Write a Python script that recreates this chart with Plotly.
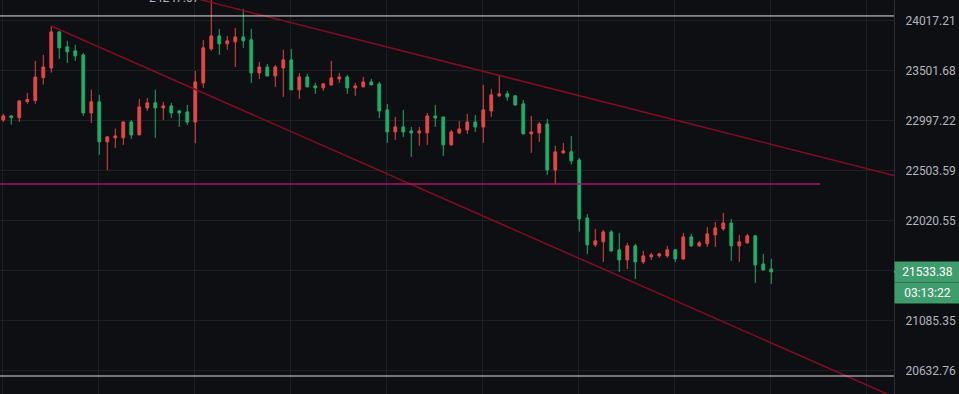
import math
import plotly.graph_objects as go

# ---------------- data ----------------
bar_index = list(range(97))

opens = [23000.6, 23041.0, 23024.2, 23185.6, 23195.7, 23427.7, 23525.7, 23896.9, 23742.2, 23701.0,
         23659.8, 23071.2, 23182.2, 22783.3, 22822.8, 22822.8, 22980.8, 22852.4, 23121.7, 23172.1,
         23121.7, 23141.9, 23091.4, 23081.3, 22980.8, 23373.9, 23721.6, 23855.7, 23773.2, 23793.8,
         23845.3, 23814.4, 23474.8, 23536.0, 23444.5, 23525.7, 23608.2, 23303.3, 23434.4, 23343.6,
         23323.5, 23353.7, 23414.3, 23434.4, 23323.5, 23333.5, 23384.0, 23363.8, 23101.5, 22882.0,
         22931.4, 22891.9, 22872.1, 22872.1, 23041.0, 23030.9, 22753.7, 22872.1, 22901.8, 22980.8,
         22931.4, 23091.4, 23242.7, 23262.9, 23242.7, 23162.0, 22862.3, 22872.1, 22961.0, 22506.8,
         22674.7, 22684.6, 22605.6, 22043.1, 21787.4, 21815.8, 21910.3, 21740.1, 21645.6, 21777.9,
         21626.7, 21673.9, 21683.4, 21683.4, 21740.1, 21655.1, 21863.0, 21777.9, 21796.8, 21881.9,
         21938.6, 21995.3, 21777.9, 21806.3, 21872.5, 21607.8, 21560.5]
highs = [23061.1, 23051.1, 23195.0, 23273.0, 23597.9, 23659.8, 23958.8, 23907.2, 23804.1, 23762.9,
         23680.4, 23303.3, 23252.8, 22842.5, 22914.9, 22990.6, 23000.6, 23212.5, 23222.6, 23303.3,
         23182.2, 23172.1, 23101.5, 23151.9, 23495.0, 23814.4, 24247.07, 23927.8, 23855.7, 23938.1,
         24136.6, 23927.8, 23587.6, 23567.0, 23556.6, 23711.3, 23721.6, 23474.8, 23464.7, 23373.9,
         23373.9, 23597.9, 23474.8, 23454.6, 23373.9, 23434.4, 23414.3, 23386.0, 23162.0, 23030.9,
         23101.5, 22931.4, 22931.4, 23071.2, 23151.9, 23033.0, 22901.8, 22990.6, 23061.1, 23051.1,
         23353.7, 23313.4, 23454.6, 23293.2, 23252.8, 23202.4, 23041.0, 22980.8, 23010.7, 22743.8,
         22773.4, 22842.5, 22625.3, 22081.8, 21938.6, 21929.2, 21929.2, 21900.8, 21806.3, 21796.8,
         21730.7, 21711.7, 21711.7, 21777.9, 21749.6, 21900.8, 21891.4, 21825.2, 21957.5, 22004.8,
         22091.4, 22033.4, 21881.9, 21891.4, 21881.9, 21702.3, 21655.1]
lows = [22980.8, 22954.4, 22980.8, 23162.0, 23162.0, 23357.1, 23478.2, 23618.5, 23577.3, 23597.9,
        23041.0, 22970.9, 22654.9, 22506.8, 22724.0, 22753.7, 22812.9, 22850.0, 23091.4, 22822.8,
        23000.6, 23020.8, 22931.4, 22951.1, 22770.1, 23323.5, 23701.0, 23659.8, 23711.3, 23536.0,
        23731.9, 23373.9, 23414.3, 23440.0, 23333.5, 23232.7, 23300.0, 23212.5, 23330.0, 23262.9,
        23293.2, 23343.6, 23373.9, 23262.9, 23242.7, 23330.0, 23350.0, 23020.8, 22773.4, 22803.0,
        22832.6, 22635.2, 22743.8, 22753.7, 22931.4, 22645.1, 22743.8, 22862.3, 22862.3, 22882.0,
        22773.4, 23030.9, 23232.7, 23192.3, 23141.9, 22860.0, 22674.7, 22783.3, 22458.5, 22371.6,
        22664.8, 22560.0, 21913.4, 21702.3, 21768.5, 21626.7, 21721.2, 21532.5, 21560.5, 21467.7,
        21607.8, 21645.6, 21664.5, 21664.5, 21626.7, 21645.6, 21768.5, 21768.5, 21768.5, 21768.5,
        21919.7, 21636.2, 21626.7, 21796.8, 21430.7, 21550.0, 21421.5]
closes = [23041.0, 23024.2, 23192.3, 23205.8, 23434.4, 23536.0, 23896.9, 23731.9, 23690.7, 23649.4,
          23071.2, 23182.2, 22783.3, 22832.6, 22842.5, 22980.8, 22852.4, 23131.8, 23172.1, 23121.7,
          23141.9, 23071.2, 23071.2, 22980.8, 23384.0, 23731.9, 23855.7, 23773.2, 23804.1, 23845.3,
          23804.1, 23474.8, 23536.0, 23444.5, 23536.0, 23608.2, 23303.3, 23434.4, 23333.5, 23323.5,
          23363.8, 23424.4, 23434.4, 23323.5, 23343.6, 23384.0, 23353.7, 23091.4, 22882.0, 22931.4,
          22882.0, 22872.1, 22891.9, 23041.0, 23020.8, 22753.7, 22882.0, 22911.6, 22980.8, 22931.4,
          23101.5, 23252.8, 23262.9, 23232.7, 23151.9, 22862.3, 22882.0, 22961.0, 22506.8, 22684.6,
          22694.4, 22595.7, 22033.5, 21787.4, 21825.2, 21910.3, 21730.7, 21645.6, 21777.9, 21626.7,
          21683.4, 21692.8, 21702.3, 21740.1, 21655.1, 21863.0, 21777.9, 21806.3, 21891.4, 21948.1,
          21995.3, 21777.9, 21815.8, 21872.5, 21598.3, 21551.1, 21533.38]

# price-axis ticks
tick_values = [24017.21, 23501.68, 22997.22, 22503.59, 22020.55, 21547.90, 21085.35, 20632.76]
tick_labels = ["24017.21", "23501.68", "22997.22", "22503.59", "22020.55", "", "21085.35", "20632.76"]

# drawings (bar index, price)
upper_trend_x = [20, 112]
upper_trend_y = [24333.4, 22439.8]
lower_trend_x = [6, 112]
lower_trend_y = [23958.8, 20374.9]
level_magenta_x = [-1, 102.1]
level_magenta_y = [22371.6, 22371.6]
level_top = 24062.9
level_bottom = 20582.0

high_label = "24247.07"
high_label_index = 24.8
last_price = 21533.38
last_price_text = "21533.38"
countdown_text = "03:13:22"

# ---------------- styling ----------------
BG = "#0e0f13"
GRID = "#1d1f24"
UP = "#e2474b"
DOWN = "#22ab6a"
TEXT = "#b2b5be"
LABEL_BG = "#3f9c6d"
TREND = "#820d22"
MAGENTA = "#a8146a"
WHITE_LVL = "#e0e0e0"

fig = go.Figure()

fig.add_trace(go.Candlestick(
    x=bar_index, open=opens, high=highs, low=lows, close=closes,
    increasing=dict(line=dict(color=UP, width=1), fillcolor=UP),
    decreasing=dict(line=dict(color=DOWN, width=1), fillcolor=DOWN),
    whiskerwidth=0, showlegend=False, hoverinfo="skip",
))

fig.add_trace(go.Scatter(x=upper_trend_x, y=upper_trend_y, mode="lines",
                         line=dict(color=TREND, width=1.5), showlegend=False, hoverinfo="skip"))
fig.add_trace(go.Scatter(x=lower_trend_x, y=lower_trend_y, mode="lines",
                         line=dict(color=TREND, width=1.5), showlegend=False, hoverinfo="skip"))
fig.add_trace(go.Scatter(x=level_magenta_x, y=level_magenta_y, mode="lines",
                         line=dict(color=MAGENTA, width=1.5), showlegend=False, hoverinfo="skip"))
fig.add_trace(go.Scatter(x=[-1, 112], y=[level_top, level_top], mode="lines",
                         line=dict(color=WHITE_LVL, width=1), showlegend=False, hoverinfo="skip"))
fig.add_trace(go.Scatter(x=[-1, 112], y=[level_bottom, level_bottom], mode="lines",
                         line=dict(color=WHITE_LVL, width=1), showlegend=False, hoverinfo="skip"))

# log price axis range to match the reference spacing (50 px per tick step)
r = (tick_values[0] / tick_values[-1]) ** (1 / 7)
top_price = tick_values[0] * r ** (20.33 / 50)
bottom_price = tick_values[0] * r ** ((20.33 - 394) / 50)

fig.update_layout(
    width=959, height=394,
    margin=dict(l=0, r=65, t=0, b=0),
    paper_bgcolor=BG, plot_bgcolor=BG,
    boxgap=0.5,
    font=dict(family="Roboto", size=12, color=TEXT),
    xaxis=dict(range=[-0.41, 111.34], showticklabels=False, ticks="",
               tickmode="array", tickvals=[12 * k - 0.08 for k in range(10)],
               showgrid=True, gridcolor=GRID, gridwidth=1, zeroline=False,
               showline=False, rangeslider=dict(visible=False), fixedrange=True),
    yaxis=dict(type="log", range=[math.log10(bottom_price), math.log10(top_price)],
               side="right", tickmode="array", tickvals=tick_values, ticktext=tick_labels,
               showgrid=True, gridcolor=GRID, gridwidth=1, zeroline=False,
               showline=True, linecolor="#2a2d35", linewidth=1, ticks="",
               ticklabelstandoff=8, tickfont=dict(family="Roboto", size=12, color=TEXT),
               fixedrange=True),
)

# highest-price marker (sits just above the visible area, mostly cut off)
fig.add_annotation(x=high_label_index, y=1, xref="x", yref="paper", text=high_label,
                   showarrow=False, xanchor="right", yanchor="middle", yshift=2,
                   font=dict(family="Roboto", size=12, color=TEXT))

fig.add_annotation(x=1, y=math.log10(last_price), xref="paper", yref="y", text=last_price_text,
                   showarrow=False, xanchor="left", yanchor="middle", align="center",
                   bgcolor=LABEL_BG, width=61, height=16, borderpad=2,
                   font=dict(family="Roboto", size=12, color="#ffffff"))
fig.add_annotation(x=1, y=math.log10(last_price), xref="paper", yref="y", text=countdown_text,
                   showarrow=False, xanchor="left", yanchor="middle", align="center",
                   bgcolor=LABEL_BG, width=61, height=16, borderpad=2, yshift=-21,
                   font=dict(family="Roboto", size=12, color="#ffffff"))
fig.add_shape(type="line", xref="paper", yref="y", x0=1, x1=1.0055,
              y0=last_price, y1=last_price, line=dict(color="#ffffff", width=1), layer="above")

fig.write_html("out.html", config={"displayModeBar": False},
               post_script="document.body.style.margin='0';document.body.style.overflow='hidden';")
